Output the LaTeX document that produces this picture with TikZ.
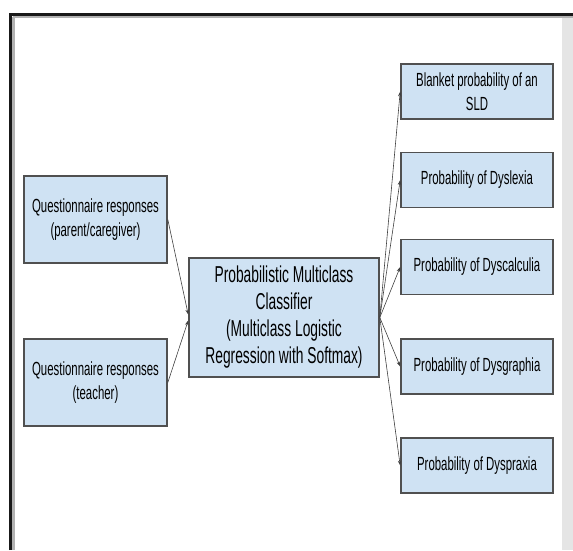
\documentclass[tikz,border=0pt]{standalone}
\usepackage{fontspec}
\setmainfont{Liberation Sans}[FakeStretch=0.6]
\usetikzlibrary{arrows.meta}
\definecolor{boxblue}{RGB}{207,226,243}
\definecolor{boxline}{RGB}{80,80,80}
\tikzset{
    inbox/.style={
        rectangle,
        draw=boxline, % 深灰边框
        fill=boxblue, % 浅蓝填充
        line width=1.6pt,
        minimum width=143pt,
        minimum height=87pt,
        align=center,
        font=\fontsize{19}{24}\selectfont
    },
    classnode/.style={
        rectangle,
        draw=boxline,
        fill=boxblue,
        line width=1.6pt,
        minimum width=190pt,
        minimum height=119pt,
        inner sep=2pt,
        align=center,
        font=\fontsize{23}{27}\selectfont
    },
    outbox/.style={
        rectangle,
        draw=boxline,
        fill=boxblue,
        line width=1.6pt,
        minimum width=152pt,
        minimum height=55pt,
        align=center,
        font=\fontsize{19}{24}\selectfont
    },
    link/.style={
        draw=black!75,
        line width=0.6pt,
        -{Stealth[length=5pt,width=3.5pt]}
    }
}
\begin{document}
\begin{tikzpicture}[x=1pt, y=-1pt]
    \useasboundingbox (0,0) rectangle (573,550);
    % 外框
    \fill[black!10] (562,17) rectangle (573,550);
    \draw[black!30, line width=3pt] (13.5,17) -- (13.5,550);
    \draw[black!30, line width=2pt] (13,17) -- (573,17);
    \draw[black!90, line width=3pt] (10,550) -- (10,14) -- (573,14);
    % 输入
    \node[inbox] (parent) at (95.5,219.5) {Questionnaire responses\\(parent/caregiver)};
    \node[inbox] (teacher) at (95.5,382.5) {Questionnaire responses\\(teacher)};
    % 分类器
    \node[classnode] (clf) at (284,317.5) {Probabilistic Multiclass\\Classifier\\(Multiclass Logistic\\Regression with Softmax)};
    % 输出
    \node[outbox] (sld) at (477,91.5) {Blanket probability of an\\SLD};
    \node[outbox] (dyslexia) at (477,180) {Probability of Dyslexia};
    \node[outbox] (dyscalculia) at (477,267) {Probability of Dyscalculia};
    \node[outbox] (dysgraphia) at (477,366.5) {Probability of Dysgraphia};
    \node[outbox] (dyspraxia) at (477,465.5) {Probability of Dyspraxia};
    % 连线
    \draw[link] (parent.east) -- ([yshift=3pt]clf.west);
    \draw[link] (teacher.east) -- ([yshift=-3pt]clf.west);
    \foreach \n in {sld, dyslexia, dyscalculia, dysgraphia, dyspraxia}
        \draw[link] (clf.east) -- (\n.west);
\end{tikzpicture}
\end{document}
